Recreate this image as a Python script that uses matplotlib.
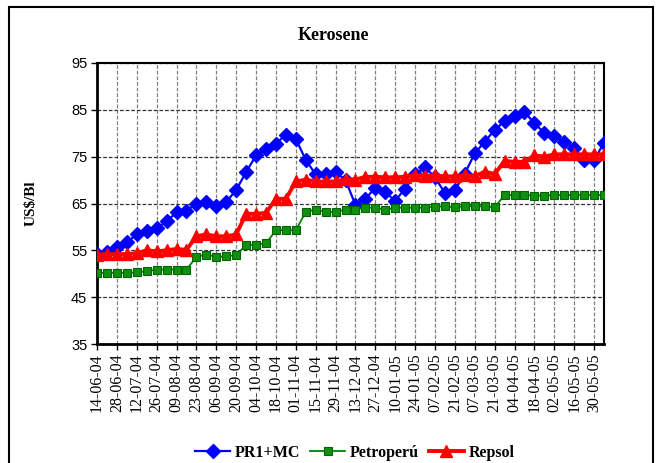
import matplotlib
matplotlib.use("Agg")
import matplotlib.pyplot as plt
from matplotlib.patches import Rectangle
import numpy as np

# weekly prices, 14-06-04 .. 06-06-05 (US$/Bl)
pr1_mc = [54.3, 54.6, 55.7, 56.7, 58.4, 59.1, 59.7, 61.2, 63.1, 63.5,
          64.9, 65.3, 64.4, 65.3, 67.9, 71.7, 75.3, 76.6, 77.8, 79.7,
          78.8, 74.3, 71.2, 71.2, 71.7, 70.0, 64.7, 66.0, 68.4, 67.4,
          65.6, 68.2, 71.2, 72.7, 70.6, 67.2, 67.9, 71.4, 75.7, 78.2,
          80.7, 82.6, 83.7, 84.6, 82.1, 80.1, 79.5, 78.2, 76.8, 74.2,
          74.2, 78.0]
petroperu = [50.2, 50.2, 50.2, 50.2, 50.3, 50.5, 50.9, 50.9, 50.9, 50.9,
             53.6, 54.1, 53.6, 53.7, 54.0, 56.1, 56.2, 56.5, 59.3, 59.3,
             59.3, 63.2, 63.7, 63.2, 63.2, 63.7, 63.7, 64.1, 64.1, 63.7,
             64.1, 64.1, 64.1, 64.1, 64.3, 64.4, 64.2, 64.4, 64.4, 64.4,
             64.2, 66.8, 66.8, 66.8, 66.7, 66.7, 66.8, 66.8, 66.8, 66.8,
             66.8, 66.8]
repsol = [54.1, 54.2, 54.2, 54.2, 54.4, 55.0, 54.8, 55.0, 55.3, 55.1,
          58.0, 58.4, 58.0, 58.0, 58.4, 62.8, 62.8, 63.0, 66.0, 66.0,
          69.7, 70.1, 69.7, 69.7, 69.7, 70.2, 70.1, 70.7, 70.7, 70.6,
          70.6, 70.7, 71.1, 70.9, 71.0, 70.8, 70.8, 71.1, 70.8, 71.8,
          71.3, 74.1, 73.9, 73.9, 75.3, 75.0, 75.5, 75.5, 75.5, 75.5,
          75.5, 75.5]

date_labels = ["14-06-04", "28-06-04", "12-07-04", "26-07-04", "09-08-04",
               "23-08-04", "06-09-04", "20-09-04", "04-10-04", "18-10-04",
               "01-11-04", "15-11-04", "29-11-04", "13-12-04", "27-12-04",
               "10-01-05", "24-01-05", "07-02-05", "21-02-05", "07-03-05",
               "21-03-05", "04-04-05", "18-04-05", "02-05-05", "16-05-05",
               "30-05-05"]

serif = "Liberation Serif"
sans = "Liberation Sans"

x = np.arange(len(pr1_mc))

fig = plt.figure(figsize=(6.61, 4.63), dpi=100)
ax = fig.add_axes([97 / 661, 1 - 344 / 463, (604 - 97) / 661, (344 - 63) / 463])

ax.plot(x, pr1_mc, color="#0000ff", lw=1.6, marker="D", ms=6.8,
        mfc="#0000ff", mec="#0000ff", label="PR1+MC", zorder=3)
ax.plot(x, petroperu, color="#008000", lw=1.3, marker="s", ms=5.5,
        mfc="#109010", mec="#006400", mew=0.8, label="Petroperú", zorder=4)
ax.plot(x, repsol, color="#ff0000", lw=2.8, marker="^", ms=8,
        mfc="#ff0000", mec="#ff0000", label="Repsol", zorder=5)

ax.set_xlim(0, len(x) - 1)
ax.set_ylim(35, 95)
ax.set_yticks(np.arange(35, 96, 10))
ax.set_xticks(x[::2])
ax.set_xticklabels(date_labels, rotation=90, fontfamily=serif, fontsize=11.5)
for lab in ax.get_yticklabels():
    lab.set_fontfamily(sans)
    lab.set_fontsize(10.5)

ax.yaxis.grid(True, color="#333333", ls=(0, (3, 1.5)), lw=0.9)
ax.xaxis.grid(True, color="#808080", ls=(0, (3, 1.5)), lw=0.9)
ax.set_axisbelow(True)
ax.tick_params(axis="both", direction="out", length=4, width=1, pad=3)

for side in ["left", "bottom"]:
    ax.spines[side].set_linewidth(2)
for side in ["top", "right"]:
    ax.spines[side].set_linewidth(1.5)

ax.set_ylabel("US$/Bl", fontfamily=serif, fontweight="bold", fontsize=11, labelpad=24)

fig.text(0.505, 1 - 36 / 463, "Kerosene", ha="center", va="center",
         fontfamily=serif, fontweight="bold", fontsize=13)

leg = fig.legend(loc="center", bbox_to_anchor=(0.537, 1 - 453 / 463), ncol=3,
                 frameon=False, handlelength=2.2, columnspacing=0.6, handletextpad=0.3,
                 prop={"family": serif, "weight": "bold", "size": 11.5})

fig.patches.append(Rectangle((9 / 661, -0.05), (653 - 9) / 661, 1 - 7 / 463 + 0.05,
                             transform=fig.transFigure, fill=False, lw=1.5,
                             ec="black", zorder=0))

fig.savefig("out.png", dpi=100)
